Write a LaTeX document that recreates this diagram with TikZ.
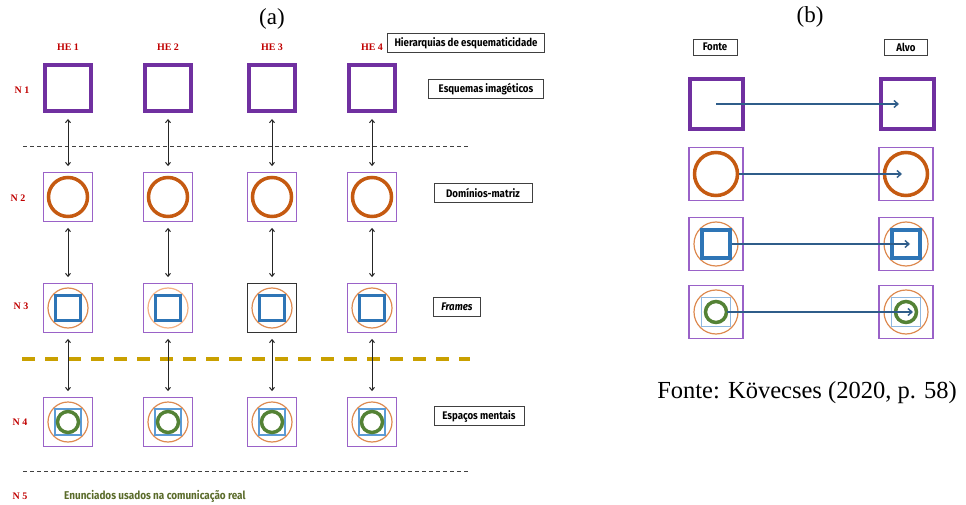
\documentclass[tikz,border=0pt]{standalone}
\usepackage{fontspec}
\setmainfont{Liberation Serif}
\newfontfamily\tagfont[FakeStretch=0.88]{Fira Sans}
\usetikzlibrary{arrows.meta}

\definecolor{plum}{HTML}{7030A0}
\definecolor{plumlt}{HTML}{9A62C8}
\definecolor{rust}{HTML}{C55A11}
\definecolor{rustlt}{HTML}{DD8A50}
\definecolor{peach}{HTML}{F4B183}
\definecolor{azure}{HTML}{2E75B6}
\definecolor{azurelt}{HTML}{5B9BD5}
\definecolor{azurepale}{HTML}{8FB8E0}
\definecolor{leaf}{HTML}{548235}
\definecolor{gold}{HTML}{C9A000}
\definecolor{crimson}{HTML}{C00000}
\definecolor{olive}{HTML}{5A6B2A}
\definecolor{steel}{HTML}{2F5D8A}

\begin{document}
\begin{tikzpicture}[x=1pt,y=-1pt,
  thickbox/.style={draw=plum, line width=4pt, minimum size=46pt, inner sep=0pt},
  cellbox/.style={draw=plumlt, line width=1.3pt, minimum size=48.5pt, inner sep=0pt},
  tag/.style={draw=black!75, line width=0.9pt, font=\tagfont\bfseries\fontsize{11}{13}\selectfont,
    minimum height=19pt, inner xsep=3pt, inner ysep=0pt},
  level/.style={text=crimson, font=\bfseries\fontsize{10}{12}\selectfont, inner sep=0pt},
  panel/.style={font=\fontsize{23}{27}\selectfont, inner sep=0pt},
  domainring/.style={draw=rust, line width=3.5pt},
  thinring/.style={draw=rustlt, line width=1.2pt},
  framesq/.style={draw=azure, line width=3.5pt},
  thinsq/.style={draw=azurelt, line width=1.2pt},
  spacering/.style={draw=leaf, line width=3.5pt},
  link/.style={{Straight Barb[length=3pt,width=5pt]}-{Straight Barb[length=3pt,width=5pt]},
    line width=1pt, draw=black!85, shorten <=6pt, shorten >=6pt},
  mapping/.style={-{Straight Barb[length=4pt,width=7pt]}, line width=1.4pt, draw=steel},
  levelline/.style={draw=black!75, line width=0.9pt, dash pattern=on 4pt off 3pt}
]
\useasboundingbox (0,0) rectangle (966,505);

% ---------- panel (a): hierarchies of schematicity ----------
\node[panel] (ta) at (272,19) {(a)};

% level separators
\draw[levelline] (23,146) -- (469,146);
\draw[draw=gold, line width=4pt, dash pattern=on 13pt off 10pt] (22,359) -- (470,359);
\draw[levelline] (23,471) -- (470,471);

% level names
\node[level] (l1) at (22,90) {N 1};
\node[level] (l2) at (18,198) {N 2};
\node[level] (l3) at (21,306) {N 3};
\node[level] (l4) at (20,422) {N 4};
\node[level] (l5) at (20,496) {N 5};
\node[anchor=west, text=olive, inner sep=0pt, font=\tagfont\bfseries\fontsize{11.3}{13}\selectfont]
  (real) at (64,496) {Enunciados usados na comunicação real};

% one column per hierarchy
\foreach \c/\x/\fb/\rc in {1/68/plumlt/rustlt, 2/168/plumlt/peach, 3/272/black!80/rustlt, 4/372/plumlt/rustlt} {
  \node[level] (he\c) at (\x,47) {HE \c};
  \node[thickbox] (n1\c) at (\x,88) {};
  \node[cellbox] (n2\c) at (\x,197) {};
  \node[cellbox, draw=\fb] (n3\c) at (\x,308) {};
  \node[cellbox] (n4\c) at (\x,422) {};
  % domain matrix
  \draw[domainring] (n2\c.center) circle[radius=19.5pt];
  % frame inside its domain
  \draw[thinring, draw=\rc] (n3\c.center) circle[radius=20pt];
  \draw[framesq, shift={(n3\c.center)}] (-12.5,-12.5) rectangle (12.5,12.5);
  % mental space inside its frame and domain
  \draw[thinring] (n4\c.center) circle[radius=20pt];
  \draw[thinsq, shift={(n4\c.center)}] (-13,-13) rectangle (13,13);
  \draw[spacering] (n4\c.center) circle[radius=10.5pt];
  % links between levels
  \draw[link] (n1\c) -- (n2\c);
  \draw[link] (n2\c) -- (n3\c);
  \draw[link] (n3\c) -- (n4\c);
}

% level tags
\node[tag, minimum width=157pt] (hier) at (466,43) {Hierarquias de esquematicidade};
\node[tag, minimum width=115pt] (esq) at (486,89) {Esquemas imagéticos};
\node[tag, minimum width=98pt] (dom) at (483,193) {Domínios-matriz};
\node[tag, minimum width=47pt] (frm) at (457,307) {\itshape Frames};
\node[tag, minimum width=90pt] (esp) at (479,416) {Espaços mentais};

% ---------- panel (b): source to target ----------
\node[panel] (tb) at (810,17) {(b)};
\node[tag, minimum width=44pt, minimum height=16pt] (src) at (715,47) {Fonte};
\node[tag, minimum width=43pt, minimum height=16pt] (tgt) at (906,47) {Alvo};

\node[thickbox, minimum width=53pt, minimum height=50pt] (bl1) at (716,104) {};
\node[thickbox, minimum width=53pt, minimum height=50pt] (br1) at (907,104) {};
\foreach \r/\y in {2/174, 3/244, 4/312} {
  \node[cellbox, minimum width=54pt, minimum height=53pt] (bl\r) at (716,\y) {};
  \node[cellbox, minimum width=54pt, minimum height=53pt] (br\r) at (906,\y) {};
}
\foreach \s in {l, r} {
  \draw[domainring] (b\s2.center) circle[radius=21.5pt];
  \draw[thinring] (b\s3.center) circle[radius=22pt];
  \draw[framesq, shift={(b\s3.center)}] (-14,-14) rectangle (14,14);
  \draw[thinring] (b\s4.center) circle[radius=22pt];
  \draw[thinsq, draw=azurepale, shift={(b\s4.center)}] (-14.5,-14.5) rectangle (14.5,14.5);
  \draw[spacering] (b\s4.center) circle[radius=10.5pt];
}
\draw[mapping, shorten >=8pt] (bl1.center) -- (br1.center);
\draw[mapping, shorten <=23pt, shorten >=4pt] (bl2.center) -- (br2.center);
\draw[mapping, shorten <=16pt, shorten >=-4pt] (bl3.center) -- (br3.center);
\draw[mapping, shorten <=11pt, shorten >=-7pt] (bl4.center) -- (br4.center);

\node[panel, font=\fontsize{24.5}{29}\selectfont] (cite) at (807,393) {Fonte: Kövecses (2020, p. 58)};
\end{tikzpicture}
\end{document}
